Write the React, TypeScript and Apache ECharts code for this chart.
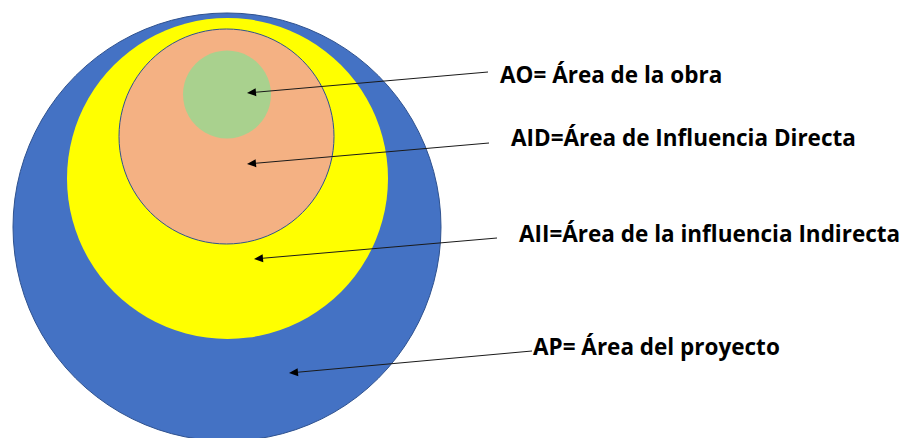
import React, { useEffect, useRef } from "react";
import * as echarts from "echarts";

// Nested areas (outer to inner)
const areaNames = ["AP", "AII", "AID", "AO"];
const circleCenterX = [227, 227.5, 226.5, 227];
const circleCenterY = [227, 178.5, 136.5, 94.5];
const circleRadius = [214, 160.5, 107.5, 44];
const circleColors = ["#4472C4", "#FFFF00", "#F4B183", "#A9D18E"];
const circleStroke = ["#2F528F", null, "#2F528F", null];

// Labels
const labelTexts = [
  "AO= Área de la obra",
  "AID=Área de Influencia Directa",
  "AII=Área de la influencia Indirecta",
  "AP= Área del proyecto",
];
const labelX = [500, 511, 519, 533];
const labelY = [74, 137, 233, 346];

// Arrows: start (near label) -> tip (inside area)
const arrowStartX = [488, 489, 497, 532];
const arrowStartY = [72, 143, 238, 351];
const arrowTipX = [247, 247, 254, 289];
const arrowTipY = [93, 164, 259, 373];

const W = 905;
const H = 438;

export default function App() {
  const ref = useRef<HTMLDivElement>(null);
  useEffect(() => {
    if (!ref.current) return;
    const chart = echarts.init(ref.current, null, { renderer: "svg" });
    const circleData = areaNames.map((_, i) => [circleCenterX[i], circleCenterY[i], circleRadius[i]]);
    const arrowData = arrowStartX.map((_, i) => [arrowStartX[i], arrowStartY[i], arrowTipX[i], arrowTipY[i]]);
    const labelData = labelTexts.map((_, i) => [labelX[i], labelY[i]]);

    chart.setOption({
      animation: false,
      backgroundColor: "#ffffff",
      grid: { left: 0, right: 0, top: 0, bottom: 0, containLabel: false },
      xAxis: { type: "value", min: 0, max: W, show: false },
      yAxis: { type: "value", min: 0, max: H, inverse: true, show: false },
      series: [
        {
          type: "custom",
          name: "areas",
          data: circleData,
          clip: false,
          silent: true,
          renderItem: (params: any, api: any) => {
            const c = api.coord([api.value(0), api.value(1)]);
            const s = api.size([api.value(2), api.value(2)]);
            const i = params.dataIndex;
            return {
              type: "circle",
              shape: { cx: c[0], cy: c[1], r: s[0] },
              style: {
                fill: circleColors[i],
                stroke: circleStroke[i] || "none",
                lineWidth: circleStroke[i] ? 1 : 0,
              },
            };
          },
        },
        {
          type: "custom",
          name: "arrows",
          data: arrowData,
          clip: false,
          silent: true,
          renderItem: (params: any, api: any) => {
            const p1 = api.coord([api.value(0), api.value(1)]);
            const p2 = api.coord([api.value(2), api.value(3)]);
            const dx = p2[0] - p1[0];
            const dy = p2[1] - p1[1];
            const len = Math.sqrt(dx * dx + dy * dy);
            const ux = dx / len;
            const uy = dy / len;
            const headLen = 9;
            const headHalf = 4;
            const bx = p2[0] - ux * headLen;
            const by = p2[1] - uy * headLen;
            const nx = -uy;
            const ny = ux;
            return {
              type: "group",
              children: [
                {
                  type: "line",
                  shape: { x1: p1[0], y1: p1[1], x2: bx, y2: by },
                  style: { stroke: "#1a1a1a", lineWidth: 1 },
                },
                {
                  type: "polygon",
                  shape: {
                    points: [
                      [p2[0], p2[1]],
                      [bx + nx * headHalf, by + ny * headHalf],
                      [bx - nx * headHalf, by - ny * headHalf],
                    ],
                  },
                  style: { fill: "#000000" },
                },
              ],
            };
          },
        },
        {
          type: "custom",
          name: "labels",
          data: labelData,
          clip: false,
          silent: true,
          renderItem: (params: any, api: any) => {
            const p = api.coord([api.value(0), api.value(1)]);
            return {
              type: "text",
              style: {
                text: labelTexts[params.dataIndex],
                x: p[0],
                y: p[1],
                fill: "#000000",
                fontSize: 22.5,
                fontWeight: "bold",
                fontFamily: "'Open Sans', sans-serif",
                align: "left",
                verticalAlign: "middle",
              },
            };
          },
        },
      ],
    });
    return () => chart.dispose();
  }, []);
  return (
    <div
      ref={ref}
      style={{ position: "absolute", left: 0, top: 0, width: W, height: H }}
    />
  );
}
